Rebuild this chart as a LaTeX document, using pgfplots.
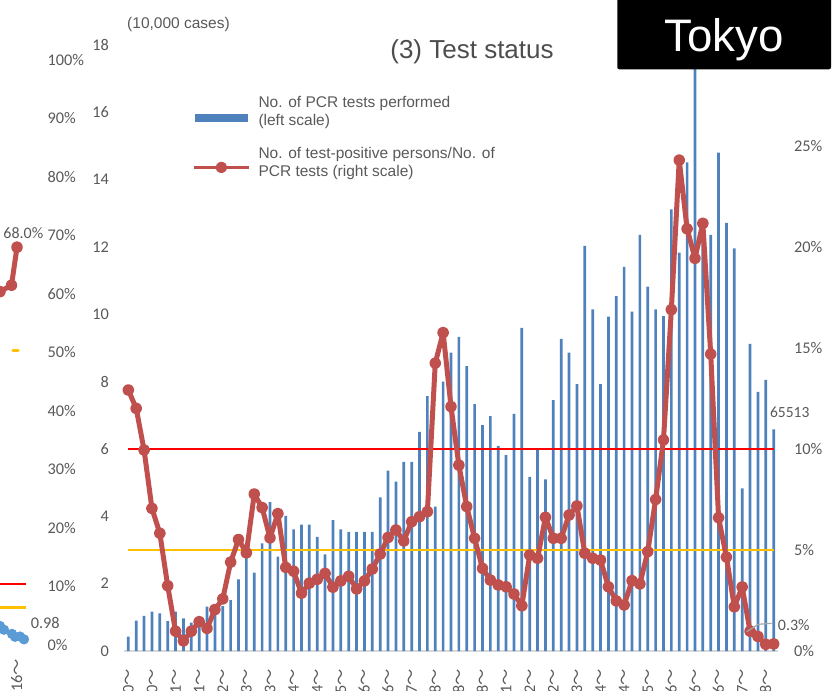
\documentclass[border=0pt]{standalone}
\usepackage{pgfplots}
\pgfplotsset{compat=1.18}
\usepackage{pgfplotstable}
\usepackage{fontspec}
\setmainfont{Carlito}
\newfontfamily\arialf{Liberation Sans}
\newfontfamily\cjk{Noto Sans CJK JP}
\newcommand{\wdash}{{\cjk ～}}

\definecolor{barblue}{HTML}{4F81BD}
\definecolor{linered}{HTML}{C0504D}
\definecolor{threshred}{HTML}{FF0000}
\definecolor{threshyellow}{HTML}{FFC000}
\definecolor{txtgray}{HTML}{595959}
\definecolor{titlegray}{HTML}{4D4D4D}
\definecolor{basegray}{HTML}{D9D9D9}
\definecolor{leftblue}{HTML}{5B9BD5}
\definecolor{leadgray}{HTML}{A6A6A6}

\pgfplotstableread{
i tests rate
0 0.43 12.92
1 0.90 12.01
2 1.04 9.95
3 1.17 7.06
4 1.12 5.83
5 0.89 3.23
6 1.17 0.98
7 0.97 0.50
8 0.84 0.98
9 1.02 1.45
10 1.32 1.12
11 1.32 2.05
12 1.33 2.58
13 1.51 4.40
14 2.13 5.52
15 3.00 4.86
16 2.33 7.77
17 3.20 7.10
18 4.42 5.60
19 2.80 6.80
20 4.01 4.14
21 3.61 3.95
22 3.75 2.86
23 3.75 3.36
24 3.39 3.55
25 2.87 3.84
26 3.89 3.16
27 3.61 3.47
28 3.54 3.70
29 3.54 3.07
30 3.54 3.47
31 3.54 4.06
32 4.56 4.80
33 5.36 5.62
34 5.03 5.99
35 5.62 5.45
36 5.62 6.40
37 6.51 6.65
38 7.57 6.90
39 4.29 14.25
40 8.00 15.76
41 8.86 12.10
42 9.33 9.20
43 8.46 7.15
44 7.33 5.58
45 6.71 4.09
46 6.98 3.51
47 6.09 3.27
48 5.82 3.18
49 7.04 2.82
50 9.60 2.24
51 5.17 4.75
52 6.00 4.59
53 5.10 6.62
54 7.45 5.58
55 9.27 5.58
56 8.86 6.73
57 7.93 7.18
58 12.03 4.84
59 10.15 4.59
60 7.93 4.50
61 9.93 3.18
62 10.54 2.48
63 11.41 2.28
64 10.08 3.48
65 12.36 3.32
66 10.82 4.92
67 10.15 7.50
68 9.95 10.45
69 13.12 16.90
70 11.83 24.30
71 14.51 20.90
72 17.30 19.44
73 12.50 21.17
74 12.36 14.70
75 14.80 6.60
76 12.72 4.65
77 11.96 2.19
78 4.83 3.17
79 9.12 0.98
80 7.70 0.72
81 8.05 0.33
82 6.58 0.35
}\maindata

\begin{document}
\begin{tikzpicture}[x=1pt,y=1pt]
\useasboundingbox (0,0) rectangle (833,691);

% ---------- left fragment (partial neighbouring chart) ----------
\begin{axis}[
  scale only axis, width=28pt, height=585pt,
  at={(0pt,46pt)}, anchor=south west,
  xmin=0, xmax=28, ymin=0, ymax=100,
  axis y line*=right, axis x line*=bottom,
  x axis line style={draw=none}, y axis line style={draw=none},
  major tick length=0pt,
  ytick={0,10,...,100},
  yticklabels={0\%,10\%,20\%,30\%,40\%,50\%,60\%,70\%,80\%,90\%,100\%},
  yticklabel style={anchor=west, inner sep=0pt, xshift=19.5pt,
    font=\fontsize{16.3}{18}\selectfont, text=txtgray},
  xtick={16.7}, xticklabels={10/16\wdash},
  xticklabel style={yshift=-13.5pt, rotate=90, anchor=east, inner sep=0pt,
    font=\fontsize{16.3}{18}\selectfont, text=txtgray},
]
\addplot[threshred, line width=2pt] coordinates {(-5,10.4) (26,10.4)};
\addplot[threshyellow, line width=2.4pt] coordinates {(-5,6.4) (26,6.4)};
\addplot[threshyellow, line width=3.5pt, line cap=round] coordinates {(13,50.3) (18,50.3)};
\addplot[leftblue, line width=4pt, mark=*, mark size=3pt] coordinates {(-6,3.6) (0,3.25) (4,2.6) (12,1.9) (15,1.4) (20,1.45) (24,0.97)};
\addplot[linered, line width=5pt, mark=*, mark size=3.4pt, line join=round] coordinates {(-8,59.6) (0,60.4) (11.5,61.5) (17,68.0)};
\end{axis}

% ---------- main chart: bars on left scale ----------
\begin{axis}[
  scale only axis, width=653.2pt, height=606pt,
  at={(124.4pt,40pt)}, anchor=south west,
  xmin=-0.5, xmax=82.5, ymin=0, ymax=18,
  axis x line*=bottom, axis y line*=left,
  x axis line style={draw=basegray, line width=1.3pt, -},
  y axis line style={draw=none},
  major tick length=0pt,
  ytick={0,2,...,18},
  yticklabels={0,2,4,6,8,10,12,14,16,18},
  yticklabel style={anchor=east, inner sep=0pt, xshift=-15.4pt,
    font=\fontsize{16.3}{18}\selectfont, text=txtgray},
  xtick={0,3,...,81},
  xticklabels={3/30\wdash,4/20\wdash,5/11\wdash,6/1\wdash,6/22\wdash,7/13\wdash,8/3\wdash,8/24\wdash,9/14\wdash,10/5\wdash,10/26\wdash,11/16\wdash,12/7\wdash,12/28\wdash,1/18\wdash,2/8\wdash,3/1\wdash,3/22\wdash,4/12\wdash,5/3\wdash,5/24\wdash,6/14\wdash,7/5\wdash,7/26\wdash,8/16\wdash,9/6\wdash,9/27\wdash,10/18\wdash},
  xticklabel style={yshift=-18pt, rotate=90, anchor=east, inner sep=0pt,
    font=\fontsize{16.3}{18}\selectfont, text=txtgray},
  ybar, bar width=2.7pt,
]
\addplot[fill=barblue, draw=none] table[x=i, y=tests] {\maindata};
\end{axis}

% ---------- main chart: positivity on right scale ----------
\begin{axis}[
  scale only axis, width=653.2pt, height=606pt,
  at={(124.4pt,40pt)}, anchor=south west,
  xmin=-0.5, xmax=82.5, ymin=0, ymax=30,
  axis y line*=right, axis x line=none,
  y axis line style={draw=none},
  major tick length=0pt,
  ytick={0,5,...,25},
  yticklabels={0\%,5\%,10\%,15\%,20\%,25\%},
  yticklabel style={anchor=west, inner sep=0pt, xshift=16.4pt,
    font=\fontsize{16.3}{18}\selectfont, text=txtgray},
  legend style={at={(0.1046,0.9158)}, anchor=north west, draw=none, fill=none,
    font=\arialf\fontsize{15.5}{17.6}\selectfont, text=txtgray,
    row sep=21pt, column sep=8.7pt, inner sep=0pt,
    nodes={inner sep=0pt, align=left}},
  legend cell align=left,
]
\addplot[threshred, line width=2pt, forget plot] coordinates {(0,10) (82,10)};
\addplot[threshyellow, line width=2.4pt, forget plot] coordinates {(0,5) (82,5)};
\addlegendimage{legend image code/.code={\fill[barblue] (1.6pt,-10pt) rectangle (53pt,-3pt);}}
\addlegendentry[align=left]{No. of PCR tests performed\\(left scale)}
\addplot[linered, line width=5pt, mark=*, mark size=3.4pt, line join=round,
  legend image code/.code={\draw[linered, line width=2.3pt] (0pt,-4.7pt) -- (54.6pt,-4.7pt); \fill[linered] (27.3pt,-4.7pt) circle (3.2pt);}]
  table[x=i, y=rate] {\maindata};
\addlegendentry[align=left]{No. of test-positive persons/No. of\\PCR tests (right scale)}
\end{axis}

% ---------- texts ----------
\node[font=\arialf\fontsize{15.5}{18}\selectfont, text=txtgray] at (178.5,667) {(10,000 cases)};
\node[font=\arialf\fontsize{26}{30}\selectfont, text=titlegray] at (472,639) {(3) Test status};
\fill[black, rounded corners=2pt] (617.3,621.7) rectangle (831,695);
\node[font=\arialf\fontsize{45.6}{50}\selectfont, text=white, anchor=base] at (724,639) {Tokyo};
\node[font=\fontsize{15.5}{18}\selectfont, text=txtgray] at (789.7,279) {65513};
\node[font=\fontsize{16}{18}\selectfont, text=txtgray] at (793.8,66.2) {0.3\%};
\draw[leadgray, line width=1.2pt] (746.7,59.3) -- (758.3,66.7) -- (771.7,67.7);
\node[font=\fontsize{16}{18}\selectfont, text=txtgray] at (23.3,457.5) {68.0\%};
\node[font=\fontsize{16.3}{18}\selectfont, text=txtgray] at (45.3,68.5) {0.98};
\end{tikzpicture}
\end{document}
